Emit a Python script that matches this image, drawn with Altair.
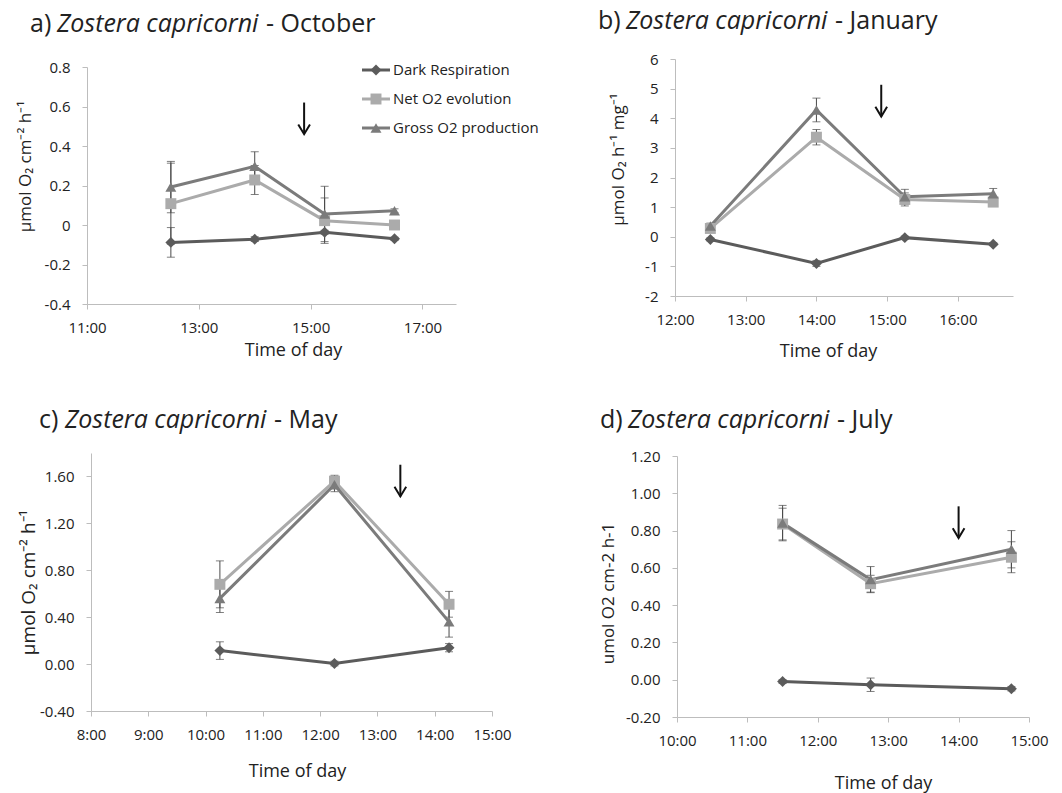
import altair as alt
import pandas as pd

W, H = 1062, 793
FONT = "Open Sans"
TEXT = "#222222"
AXIS_GREY = "#bdbdbd"

SERIES = ["Dark Respiration", "Net O2 evolution", "Gross O2 production"]
COLORS = ["#5b5b5b", "#ababab", "#7b7b7b"]
SHAPES = ["diamond", "square", "triangle-up"]

# a) October
oct_times = ["12:30", "14:00", "15:15", "16:30"]
oct_dark = [-0.088, -0.072, -0.037, -0.070]
oct_dark_se = [0.075, 0.012, 0.010, 0.008]
oct_net = [0.108, 0.228, 0.022, 0.000]
oct_net_se = [0.205, 0.073, 0.115, 0.010]
oct_gross = [0.192, 0.297, 0.056, 0.072]
oct_gross_se = [0.130, 0.074, 0.140, 0.010]

# b) January
jan_times = ["12:30", "14:00", "15:15", "16:30"]
jan_dark = [-0.09, -0.90, -0.03, -0.25]
jan_dark_se = [0.05, 0.10, 0.05, 0.05]
jan_net = [0.28, 3.36, 1.26, 1.17]
jan_net_se = [0.10, 0.26, 0.22, 0.08]
jan_gross = [0.36, 4.28, 1.35, 1.45]
jan_gross_se = [0.10, 0.40, 0.25, 0.18]

# c) May
may_times = ["10:15", "12:15", "14:15"]
may_dark = [0.115, 0.005, 0.14]
may_dark_se = [0.075, 0.02, 0.035]
may_net = [0.68, 1.56, 0.51]
may_net_se = [0.20, 0.05, 0.11]
may_gross = [0.56, 1.53, 0.36]
may_gross_se = [0.12, 0.06, 0.13]

# d) July
jul_times = ["11:30", "12:45", "14:45"]
jul_dark = [-0.010, -0.027, -0.048]
jul_dark_se = [0.010, 0.036, 0.012]
jul_net = [0.835, 0.515, 0.657]
jul_net_se = [0.085, 0.045, 0.083]
jul_gross = [0.840, 0.537, 0.700]
jul_gross_se = [0.095, 0.070, 0.100]

# arrow annotations: (time, top value, tip value)
oct_arrow = ("14:53", 0.62, 0.46)
jan_arrow = ("14:55", 5.13, 4.06)
may_arrow = ("13:24", 1.70, 1.43)
jul_arrow = ("14:00", 0.93, 0.76)


def hours(s):
    h, m = s.split(":")
    return int(h) + int(m) / 60.0


def frame(times, dark, dark_se, net, net_se, gross, gross_se):
    rows = []
    for name, vals, ses in zip(SERIES, [dark, net, gross], [dark_se, net_se, gross_se]):
        for t, v, e in zip(times, vals, ses):
            rows.append({"t": hours(t), "v": v, "lo": v - e, "hi": v + e, "series": name})
    return pd.DataFrame(rows)


color = alt.Color("series:N", scale=alt.Scale(domain=SERIES, range=COLORS), legend=None)
shape = alt.Shape("series:N", scale=alt.Scale(domain=SERIES, range=SHAPES), legend=None)


def panel(df, arrow, xdom, xrange, xticks, ydom, yrange, yticks, ylabel_expr,
          ytitle, ytitle_size, ytitle_xy, xtitle_xy):
    xs = alt.Scale(domain=xdom, range=xrange, nice=False, zero=False)
    ys = alt.Scale(domain=ydom, range=yrange, nice=False, zero=False)
    common = dict(
        grid=False, domainColor=AXIS_GREY, tickColor=AXIS_GREY, tickSize=5,
        labelFont=FONT, labelFontSize=15, labelColor=TEXT,
        titleFont=FONT, titleColor=TEXT, titleFontWeight="normal",
        labelOverlap=False,
    )
    xa = alt.Axis(
        orient="bottom", offset=yrange[0] - H, values=xticks,
        labelExpr="floor(datum.value) + ':00'", labelFlush=False,
        labelBaseline="middle", labelPadding=18,
        title="Time of day", titleFontSize=18,
        titleX=xtitle_xy[0], titleY=xtitle_xy[1] - yrange[0],
        titleAlign="center", titleBaseline="middle", titleAngle=0,
        **common,
    )
    ya = alt.Axis(
        orient="left", offset=-xrange[0], values=yticks,
        labelExpr=ylabel_expr, labelPadding=12,
        title=ytitle, titleFontSize=ytitle_size,
        titleX=ytitle_xy[0] - xrange[0], titleY=ytitle_xy[1],
        titleAngle=270, titleAlign="center", titleBaseline="middle",
        **common,
    )
    X = alt.X("t:Q", scale=xs, axis=xa)
    base = alt.Chart(df)
    bars = base.mark_rule(strokeWidth=1, color="#4a4a4a").encode(
        x=X, y=alt.Y("lo:Q", scale=ys, axis=ya), y2="hi:Q")
    cap_hi = base.mark_tick(orient="horizontal", size=8, thickness=1, color="#4a4a4a").encode(
        x=X, y=alt.Y("hi:Q", scale=ys, axis=ya))
    cap_lo = base.mark_tick(orient="horizontal", size=8, thickness=1, color="#4a4a4a").encode(
        x=X, y=alt.Y("lo:Q", scale=ys, axis=ya))
    lines = base.mark_line(strokeWidth=3).encode(
        x=X, y=alt.Y("v:Q", scale=ys, axis=ya), color=color, order="t:Q")
    pts = base.mark_point(filled=True, size=120, opacity=1).encode(
        x=X, y=alt.Y("v:Q", scale=ys, axis=ya), color=color, shape=shape)

    adf = pd.DataFrame([{"t": hours(arrow[0]), "top": arrow[1], "tip": arrow[2]}])
    ab = alt.Chart(adf)
    shaft = ab.mark_rule(strokeWidth=2, color="#111111").encode(
        x=X, y=alt.Y("top:Q", scale=ys, axis=ya), y2="tip:Q")
    head = ab.mark_point(shape="M-0.6,-1L0,0L0.6,-1", filled=False, strokeWidth=2,
                         size=380, color="#111111", opacity=1).encode(
        x=X, y=alt.Y("tip:Q", scale=ys, axis=ya))
    return alt.layer(bars, cap_hi, cap_lo, lines, pts, shaft, head)


def fmt_expr(spec, zero_plain=False):
    core = "(datum.value < 0 ? '-' : '') + format(abs(datum.value), '%s')" % spec
    if zero_plain:
        return "datum.value == 0 ? '0' : " + core
    return core


pa = panel(frame(oct_times, oct_dark, oct_dark_se, oct_net, oct_net_se, oct_gross, oct_gross_se),
           oct_arrow, [11, 17.6], [87, 456], [11, 13, 15, 17],
           [-0.4, 0.8], [304, 67], [-0.4, -0.2, 0, 0.2, 0.4, 0.6, 0.8],
           fmt_expr(".1f", zero_plain=True),
           "µmol O₂ cm⁻² h⁻¹", 17, (25, 166), (293, 350))
pb = panel(frame(jan_times, jan_dark, jan_dark_se, jan_net, jan_net_se, jan_gross, jan_gross_se),
           jan_arrow, [12, 16.78], [675, 1013], [12, 13, 14, 15, 16],
           [-2, 6], [296, 59], [-2, -1, 0, 1, 2, 3, 4, 5, 6],
           fmt_expr("d"),
           "µmol O₂ h⁻¹ mg⁻¹", 17, (618, 159), (828, 351))
pc = panel(frame(may_times, may_dark, may_dark_se, may_net, may_net_se, may_gross, may_gross_se),
           may_arrow, [8, 15], [91, 492], [8, 9, 10, 11, 12, 13, 14, 15],
           [-0.4, 1.8], [711, 453], [-0.4, 0, 0.4, 0.8, 1.2, 1.6],
           fmt_expr(".2f"),
           "µmol O₂ cm⁻² h⁻¹", 19, (28, 582), (297, 771))
pd_ = panel(frame(jul_times, jul_dark, jul_dark_se, jul_net, jul_net_se, jul_gross, jul_gross_se),
            jul_arrow, [10, 15], [677, 1029], [10, 11, 12, 13, 14, 15],
            [-0.2, 1.2], [717, 456], [-0.2, 0, 0.2, 0.4, 0.6, 0.8, 1.0, 1.2],
            fmt_expr(".2f"),
            "umol O2 cm-2 h-1", 17, (608, 593), (883, 783))

# legend drawn in the October panel
leg = alt.Chart(pd.DataFrame({"series": SERIES}))
leg_y = alt.Y("series:N", scale=alt.Scale(type="point", domain=SERIES, range=[70, 128], padding=0), axis=None)
leg_line = leg.mark_rule(strokeWidth=3).encode(x=alt.value(362), x2=alt.value(390), y=leg_y, color=color)
leg_pt = leg.mark_point(filled=True, size=120, opacity=1).encode(x=alt.value(376), y=leg_y, color=color, shape=shape)
leg_txt = leg.mark_text(align="left", baseline="middle", font=FONT, fontSize=15, color=TEXT).encode(
    x=alt.value(393), y=leg_y, text="series:N")

# panel headings: label, italic species name, month
headings = [
    (("a)", 30), ("Zostera capricorni", 57), ("- October", 266), 32),
    (("b)", 598), ("Zostera capricorni", 626), ("- January", 835), 29),
    (("c)", 39), ("Zostera capricorni", 65), ("- May", 274), 428),
    (("d)", 600), ("Zostera capricorni", 628), ("- July", 837), 428),
]
one = alt.Chart(pd.DataFrame({"k": [0]}))
head_layers = []
for lab, sp, mon, base_y in headings:
    for (txt, x0), style in zip([lab, sp, mon], ["normal", "italic", "normal"]):
        head_layers.append(
            one.mark_text(text=txt, align="left", baseline="alphabetic", font=FONT,
                          fontSize=25, fontStyle=style, color=TEXT).encode(
                x=alt.value(x0), y=alt.value(base_y)))

chart = alt.layer(
    pa, pb, pc, pd_, leg_line, leg_pt, leg_txt, *head_layers
).resolve_scale(
    x="independent", y="independent"
).properties(
    width=W, height=H, padding=0,
    autosize=alt.AutoSizeParams(type="none"),
    background="white",
).configure_view(stroke=None)

chart.save("out.html", embed_options={"renderer": "svg", "actions": False})
